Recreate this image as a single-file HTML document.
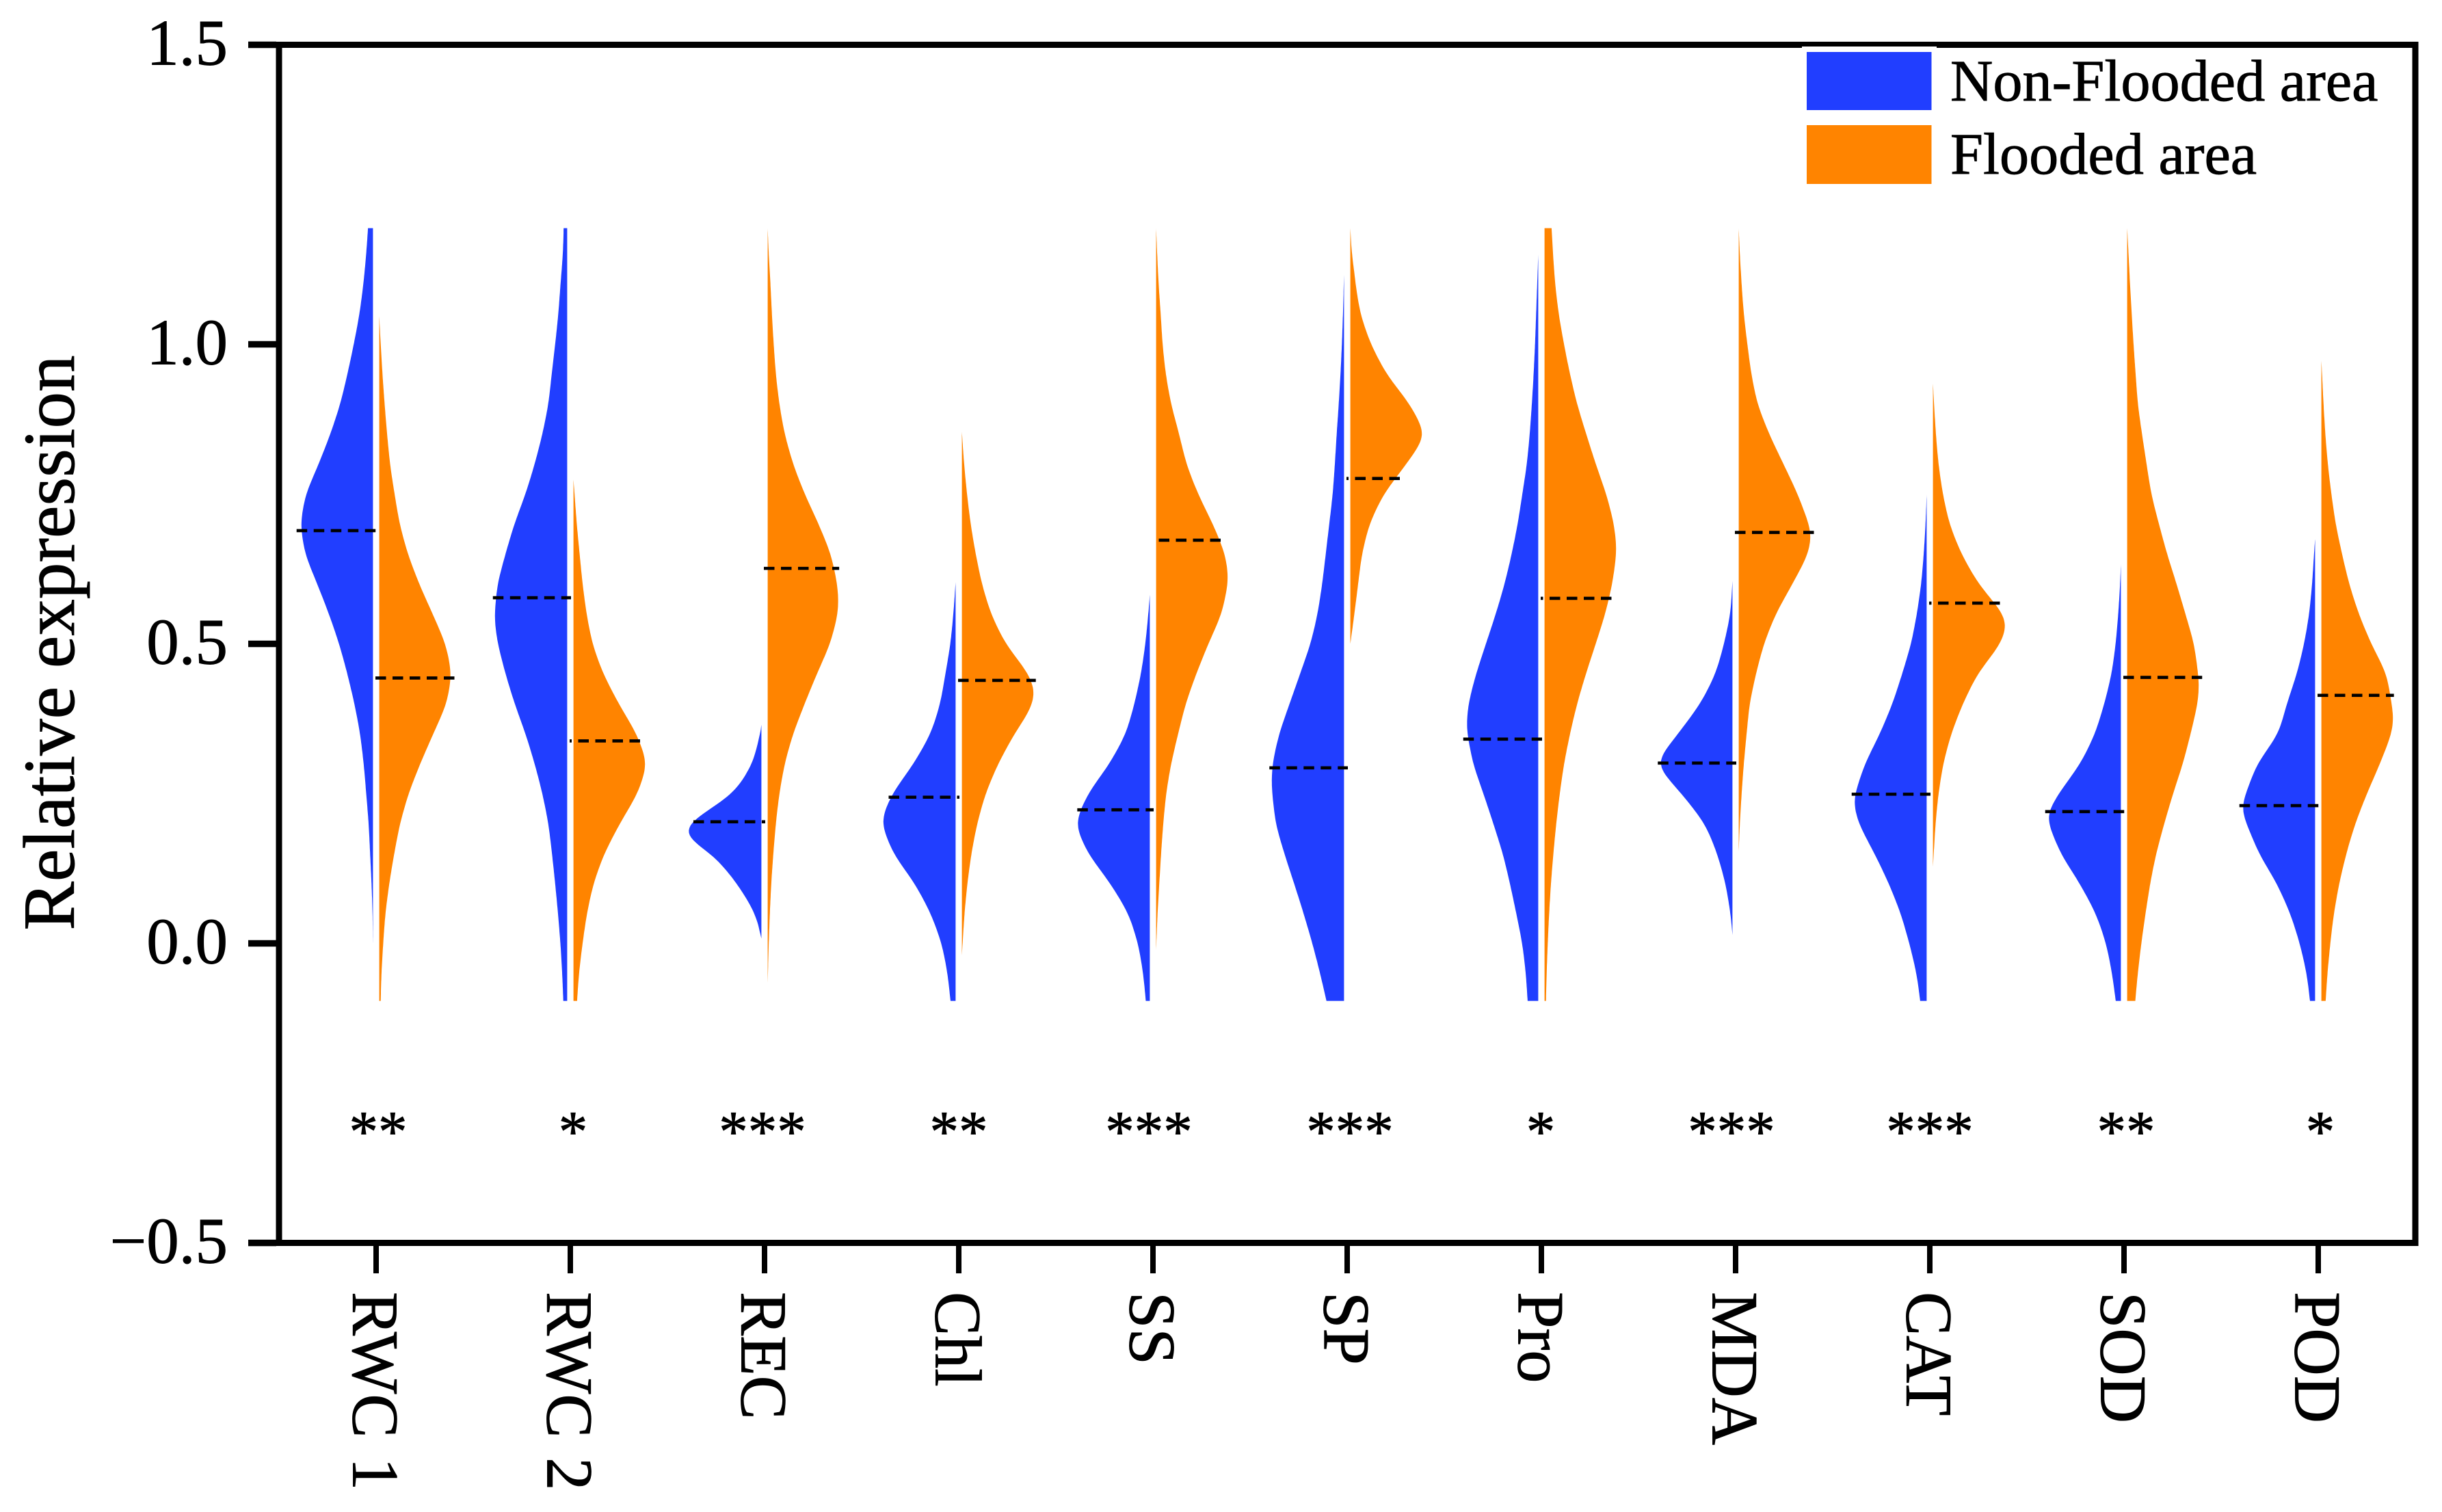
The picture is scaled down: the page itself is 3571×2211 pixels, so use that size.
<!DOCTYPE html>
<html lang="en">
<head>
<meta charset="utf-8">
<title>Relative expression violin chart</title>
<style>
html,body{margin:0;padding:0;background:#fff;}
svg{display:block;}
text{font-family:"Liberation Serif","Times New Roman",serif;fill:#000;stroke:#000;stroke-width:0.9px;}
</style>
</head>
<body>
<svg id="chart" xmlns="http://www.w3.org/2000/svg" width="3571" height="2211" viewBox="0 0 3571 2211">
  <rect x="0" y="0" width="3571" height="2211" fill="#fff"/>
  <g id="marks"></g>
  <g id="frame"></g>
  <text font-size="107" text-anchor="middle" transform="translate(108 940) rotate(-90)">Relative expression</text>
  <g>
    <rect x="2635" y="68" width="197" height="207" fill="#fff"/>
    <rect x="2642" y="76" width="182.500" height="85" fill="#213EFF"/>
    <rect x="2642" y="183" width="182.500" height="86" fill="#FF8400"/>
    <text x="2852" y="147" font-size="86.300">Non-Flooded area</text>
    <text x="2852" y="254" font-size="86.300">Flooded area</text>
  </g>
</svg>
<script>
/* ---------- categories and labels ---------- */
const categories = ['RWC 1','RWC 2','REC','Chl','SS','SP','Pro','MDA','CAT','SOD','POD'];
const significance = ['**','*','***','**','***','***','*','***','***','**','*'];
const yTicks = [1.5,1.0,0.5,0.0,-0.5];
const yTickLabels = ['1.5','1.0','0.5','0.0','\u22120.5'];

/* ---------- medians (dashed lines), in data units ---------- */
const nonFloodedMedian = [0.689,0.577,0.203,0.244,0.223,0.293,0.341,0.301,0.249,0.220,0.230];
const floodedMedian = [0.443,0.338,0.626,0.439,0.673,0.776,0.576,0.686,0.568,0.444,0.414];
/* width of each dashed line, in density units */
const nonFloodedMedianReach = [219,213,195,192,208,214,215,214,215,217,217];
const floodedMedianReach = [218,203,205,212,192,144,197,218,198,215,208];

/* ---------- densities: value grid + density per half violin ---------- */
const rwc1BlueV = [1.194,1.15,1.1,1.05,1,.95,.9,.85,.8,.75,.7,.65,.6,.55,.5,.45,.4,.35,.3,.25,.2,.15,.1,.05,-.004];
const rwc1BlueD = [14,19,27,38,54,72,92,120,153,190,205,192,157,124,95,72,52,36,26,19,12,8,4,1,0];
const rwc1OrangeV = [1.047,1,.95,.9,.85,.8,.75,.7,.65,.6,.55,.5,.45,.4,.35,.3,.25,.2,.15,.1,.05,0,-.05,-.096];
const rwc1OrangeD = [0,4,9,15,22,30,43,57,80,112,150,187,204,190,152,115,82,58,42,28,17,11,6,4];

const rwc2BlueV = [1.194,1.15,1.1,1.05,1,.95,.9,.85,.8,.75,.7,.65,.6,.542,.5,.45,.4,.35,.3,.25,.2,.15,.1,.05,0,-.05,-.096];
const rwc2BlueD = [10,12,19,25,34,44,53,70,92,118,150,175,198,207,197,175,149,118,92,70,53,43,34,26,19,14,11];
const rwc2OrangeV = [.774,.75,.7,.65,.6,.55,.5,.45,.4,.35,.3,.25,.2,.15,.1,.05,0,-.05,-.096];
const rwc2OrangeD = [0,3,9,17,25,36,52,82,125,175,205,178,128,85,55,37,25,15,10];

const recBlueV = [.365,.35,.3,.25,.2,.185,.17,.15,.1,.05,.008];
const recBlueD = [0,3,22,70,190,208,180,125,62,15,0];
const recOrangeV = [1.194,1.15,1.1,1.05,1,.95,.9,.85,.8,.75,.7,.65,.6,.5755,.55,.5,.45,.4,.35,.3,.25,.2,.15,.1,.05,0,-.066];
const recOrangeD = [0,3,8,12,17,23,33,48,72,105,145,180,198,202,200,178,140,105,72,48,33,23,16,10,6,3,0];

const chlBlueV = [.603,.55,.5,.45,.4,.35,.3,.25,.204,.15,.1,.05,0,-.05,-.096];
const chlBlueD = [0,6,14,28,42,68,115,175,207,172,112,68,38,22,14];
const chlOrangeV = [.854,.8,.75,.7,.65,.6,.55,.5,.45,.42,.39,.35,.3,.25,.2,.15,.1,.05,-.02];
const chlOrangeD = [0,6,14,24,38,55,80,120,185,205,190,145,100,65,42,26,15,7,0];

const ssBlueV = [.582,.55,.5,.45,.4,.35,.3,.25,.2,.15,.1,.05,0,-.05,-.096];
const ssBlueD = [0,4,12,24,42,65,110,170,206,170,108,58,32,18,11];
const ssOrangeV = [1.194,1.15,1.1,1.05,1,.95,.9,.85,.8,.75,.7,.65,.607,.55,.5,.45,.4,.35,.3,.25,.2,.15,.1,.05,-.011];
const ssOrangeD = [0,3,7,13,18,27,42,65,85,118,160,195,205,185,147,113,83,62,42,28,20,14,9,4,0];

const spBlueV = [1.116,1.05,1,.95,.9,.85,.8,.75,.7,.65,.6,.55,.5,.45,.4,.35,.3,.265,.2,.15,.1,.05,0,-.05,-.096];
const spBlueD = [0,3,6,10,15,21,26,32,42,52,62,75,95,125,155,185,204,207,195,170,142,115,90,68,50];
const spOrangeV = [1.194,1.15,1.12,1.1,1.05,1,.95,.9,.848,.8,.75,.7,.65,.6,.55,.5];
const spOrangeD = [0,4,11,14,27,55,97,161,205,151,89,51,31,21,11,0];

const proBlueV = [1.15,1.1,1.05,1,.95,.9,.85,.8,.75,.7,.65,.6,.55,.5,.45,.4,.36,.3,.25,.2,.15,.1,.05,0,-.05,-.096];
const proBlueD = [0,3,6,9,13,18,24,32,45,58,75,95,120,148,176,198,204,185,155,127,100,80,62,45,35,30];
const proOrangeV = [1.194,1.15,1.1,1.05,1,.95,.9,.85,.8,.75,.7,.656,.6,.55,.5,.45,.4,.35,.3,.25,.2,.15,.1,.05,0,-.05,-.096];
const proOrangeD = [20,24,30,40,55,72,92,118,145,175,197,205,192,172,145,117,92,72,55,43,33,25,18,13,9,6,4];

const mdaBlueV = [.605,.55,.5,.45,.4,.35,.3,.25,.2,.15,.1,.05,.014];
const mdaBlueD = [0,5,22,44,84,143,205,134,72,40,18,5,0];
const mdaOrangeV = [1.194,1.15,1.1,1.05,1,.95,.9,.85,.8,.75,.6854,.65,.6,.55,.5,.45,.4,.35,.3,.25,.2,.153];
const mdaOrangeD = [0,3,8,14,24,35,52,85,125,165,205,195,150,103,70,48,30,22,14,8,3,0];

const catBlueV = [.749,.7,.65,.6,.55,.5,.45,.4,.35,.3,.238,.2,.15,.1,.05,0,-.05,-.096];
const catBlueD = [0,3,8,15,27,43,68,95,130,172,206,190,145,105,72,48,28,18];
const catOrangeV = [.9345,.9,.85,.8,.75,.7,.65,.6,.55,.5315,.5,.45,.4,.35,.3,.25,.2,.128];
const catOrangeD = [0,3,8,15,27,45,78,125,195,206,187,122,82,50,28,15,7,0];

const sodBlueV = [.633,.6,.55,.5,.45,.4,.35,.3,.25,.2126,.15,.1,.05,0,-.05,-.096];
const sodBlueD = [0,2,7,14,25,45,70,110,170,206,165,112,68,40,24,14];
const sodOrangeV = [1.194,1.15,1.1,1.05,1,.95,.9,.85,.8,.75,.7,.65,.6,.55,.5,.432,.4,.35,.3,.25,.2,.15,.1,.05,0,-.05,-.096];
const sodOrangeD = [0,4,8,13,18,24,30,42,55,68,90,113,140,165,190,205,200,180,158,130,105,82,65,52,40,30,23];

const podBlueV = [.675,.65,.6,.55,.5,.45,.4,.35,.3,.2253,.15,.1,.05,0,-.05,-.096];
const podBlueD = [0,3,8,16,30,50,78,100,160,206,155,105,68,42,23,14];
const podOrangeV = [.9725,.95,.9,.85,.8,.75,.7,.65,.6,.55,.5,.45,.373,.35,.3,.25,.2,.15,.1,.05,0,-.05,-.096];
const podOrangeD = [0,2,6,11,18,28,40,58,78,105,140,184,205,198,165,128,95,70,50,35,25,17,12];

const nonFloodedValues = [rwc1BlueV,rwc2BlueV,recBlueV,chlBlueV,ssBlueV,spBlueV,proBlueV,mdaBlueV,catBlueV,sodBlueV,podBlueV];
const nonFloodedDensity = [rwc1BlueD,rwc2BlueD,recBlueD,chlBlueD,ssBlueD,spBlueD,proBlueD,mdaBlueD,catBlueD,sodBlueD,podBlueD];
const floodedValues = [rwc1OrangeV,rwc2OrangeV,recOrangeV,chlOrangeV,ssOrangeV,spOrangeV,proOrangeV,mdaOrangeV,catOrangeV,sodOrangeV,podOrangeV];
const floodedDensity = [rwc1OrangeD,rwc2OrangeD,recOrangeD,chlOrangeD,ssOrangeD,spOrangeD,proOrangeD,mdaOrangeD,catOrangeD,sodOrangeD,podOrangeD];

/* ---------- axis functions ---------- */
const SVGNS = 'http://www.w3.org/2000/svg';
const BLUE = '#213EFF', ORANGE = '#FF8400';
const GAP = 4.6, OVERSHOOT = 5.6;
function xBand(i){ return 550 + 284 * i; }
function yScale(v){ return 1379.5 - 876 * v; }
function wScale(d){ return d * 0.51; }

const floodedDashPhase = [0,12.5,0,0,15.5,12.5,12,0,12,0,0];
const sigNudge = [3,4,-3,0,-6,4,-1,-6,0,3,3];

function make(tag, attrs, parent){
  const e = document.createElementNS(SVGNS, tag);
  for (const k in attrs) e.setAttribute(k, attrs[k]);
  parent.appendChild(e);
  return e;
}

/* piecewise-linear lookup of the read density, then a gaussian smooth
   in value space (window shrinks at the ends so tips stay in place) */
function densityAt(vals, dens, v){
  const last = vals.length - 1;
  if (v >= vals[0]) return dens[0];
  if (v <= vals[last]) return dens[last];
  for (let i = 0; i < last; i++) {
    if (v <= vals[i] && v >= vals[i+1]) {
      const t = (v - vals[i]) / (vals[i+1] - vals[i]);
      return dens[i] + t * (dens[i+1] - dens[i]);
    }
  }
  return dens[last];
}
function sampleProfile(vals, dens){
  const hi = vals[0], lo = vals[vals.length-1];
  const step = 0.004, sigma = 0.016, out = [];
  const n = Math.max(2, Math.round((hi - lo) / step));
  let rawMax = 0, smoothMax = 0;
  for (let k = 0; k <= n; k++) {
    const v = hi - (hi - lo) * k / n;
    const reach = Math.max(0, Math.min(3 * sigma, hi - v, v - lo));
    let sum = 0, wt = 0;
    for (let j = -8; j <= 8; j++) {
      const off = reach * j / 8;
      const w = Math.exp(-off * off / (2 * sigma * sigma));
      sum += w * densityAt(vals, dens, v + off);
      wt += w;
    }
    const d = sum / wt;
    out.push([v, d]);
    smoothMax = Math.max(smoothMax, d);
  }
  for (const x of dens) rawMax = Math.max(rawMax, x);
  const gain = rawMax / smoothMax;
  return out.map(function(p){ return [p[0], p[1] * gain]; });
}

function halfPath(base, dir, vals, dens){
  const pts = sampleProfile(vals, dens);
  let d = 'M' + base.toFixed(1) + ' ' + yScale(vals[0]).toFixed(1);
  for (const p of pts) {
    d += 'L' + (base + dir * wScale(p[1])).toFixed(1) + ' ' + yScale(p[0]).toFixed(1);
  }
  d += 'L' + base.toFixed(1) + ' ' + yScale(vals[vals.length-1]).toFixed(1) + 'Z';
  return d;
}

const marks = document.getElementById('marks');
const frame = document.getElementById('frame');

/* violins */
categories.forEach(function(cat, i){
  const blueBase = xBand(i) - GAP, orangeBase = xBand(i) + GAP;

  const blue = make('path', {d: halfPath(blueBase, -1, nonFloodedValues[i], nonFloodedDensity[i]), fill: BLUE}, marks);
  
  

  const orange = make('path', {d: halfPath(orangeBase, 1, floodedValues[i], floodedDensity[i]), fill: ORANGE}, marks);
  
  
});

/* dashed medians go above every violin */
categories.forEach(function(cat, i){
  const blueBase = xBand(i) - GAP, orangeBase = xBand(i) + GAP;

  const mb = make('line', {
    x1: blueBase - wScale(nonFloodedMedianReach[i]), x2: blueBase + OVERSHOOT,
    y1: yScale(nonFloodedMedian[i]), y2: yScale(nonFloodedMedian[i]),
    stroke: '#000', 'stroke-width': 4.6, 'stroke-dasharray': '15.5 9.5'
  }, marks);
  
  

  const mo = make('line', {
    x1: orangeBase - OVERSHOOT, x2: orangeBase + wScale(floodedMedianReach[i]),
    y1: yScale(floodedMedian[i]), y2: yScale(floodedMedian[i]),
    stroke: '#000', 'stroke-width': 4.6, 'stroke-dasharray': '15.5 9.5',
    'stroke-dashoffset': floodedDashPhase[i]
  }, marks);
  
  

  const star = make('text', {x: xBand(i) + sigNudge[i], y: 1683, 'font-size': 85, 'text-anchor': 'middle'}, marks);
  star.textContent = significance[i];
  
  
});

/* frame */
const box = make('rect', {x: 408, y: 65.5, width: 3124, height: 1752, fill: 'none', stroke: '#000', 'stroke-width': 9}, frame);



/* y axis */
yTicks.forEach(function(v, i){
  const t = make('line', {x1: 363, x2: 404, y1: yScale(v), y2: yScale(v), stroke: '#000', 'stroke-width': 9.5}, frame);
  
  

  const l = make('text', {x: 333, y: yScale(v) + 29, 'font-size': 95, 'text-anchor': 'end'}, frame);
  l.textContent = yTickLabels[i];
  
  
});

/* x axis */
categories.forEach(function(cat, i){
  const t = make('line', {x1: xBand(i), x2: xBand(i), y1: 1821, y2: 1862, stroke: '#000', 'stroke-width': 8}, frame);
  
  

  const px = xBand(i) - 33.5;
  const l = make('text', {x: px, y: 1889, 'font-size': 96, 'word-spacing': 5, transform: 'rotate(90 ' + px + ' 1889)'}, frame);
  l.textContent = cat;
  
  
});
</script>
</body>
</html>
